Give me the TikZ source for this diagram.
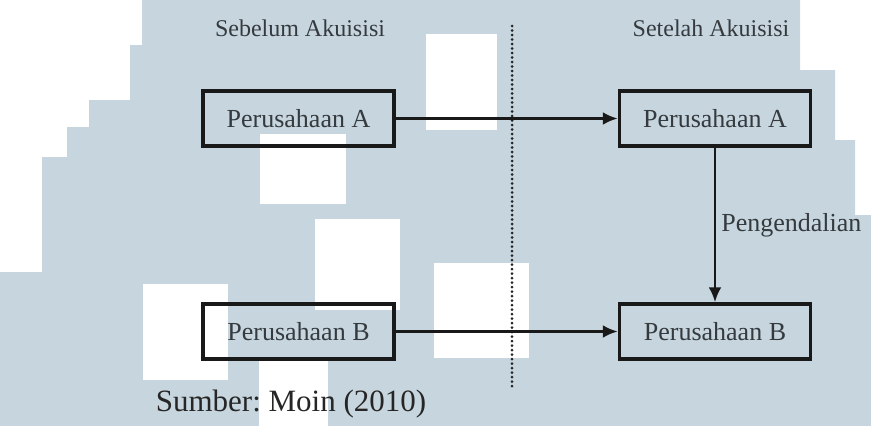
\documentclass[tikz,border=0pt]{standalone}
\usepackage{fontspec}
\setmainfont{Liberation Serif}
\usetikzlibrary{arrows.meta}
\definecolor{wmblue}{RGB}{199,214,222}
\definecolor{inkgray}{RGB}{52,58,62}
\frenchspacing

\begin{document}
\begin{tikzpicture}[x=1pt, y=-1pt, >={Latex[length=15pt,width=13pt]},   %Pfeilspitzen
	firma/.style={draw=black!90, line width=3.5pt, minimum width=191pt, minimum height=55pt, inner sep=0pt, font=\fontsize{26}{28}\selectfont, text=inkgray},
	kopf/.style={font=\fontsize{24}{26}\selectfont, text=inkgray},
	pfeil/.style={->, line width=2.8pt, draw=black!90}]
	\useasboundingbox (0,0) rectangle (871,426);
	% Hintergrund (Wasserzeichen)
	\fill[white] (0,0) rectangle (871,426);
	\fill[wmblue] (142,0) -- (800,0) -- (800,70) -- (835,70) -- (835,140) -- (855,140) -- (855,215) -- (871,215) -- (871,426) -- (0,426) -- (0,272) -- (42,272) -- (42,157) -- (67,157) -- (67,127) -- (89,127) -- (89,100) -- (130,100) -- (130,45) -- (142,45) -- cycle;
	\fill[white] (426,34) rectangle (497,130);
	\fill[white] (260,134) rectangle (346,204);
	\fill[white] (315,219) rectangle (400,310);
	\fill[white] (434,263) rectangle (529,358);
	\fill[white] (143,284) rectangle (228,380);
	\fill[white] (259,361) rectangle (328,426);
	% Ueberschriften
	\node[kopf] (sebelum) at (300,28) {Sebelum Akuisisi};
	\node[kopf] (setelah) at (711,28) {Setelah Akuisisi};
	% Trennlinie
	\coordinate (grenzeoben) at (512,26);
	\coordinate (grenzeunten) at (512,387);
	\draw[line width=3pt, line cap=round, dash pattern=on 0pt off 4.5pt, black!85] (grenzeoben) -- (grenzeunten);
	% Kaestchen
	\node[firma] (a1) at (298.5,118.5) {Perusahaan A};
	\node[firma] (a2) at (715,118.5) {Perusahaan A};
	\node[firma] (b1) at (298.5,331.5) {Perusahaan B};
	\node[firma] (b2) at (715,331.5) {Perusahaan B};
	% Pfeile
	\draw[pfeil] (a1) -- (a2);
	\draw[pfeil] (b1) -- (b2);
	\draw[pfeil] (a2.south) -- node[right, inner sep=5pt, font=\fontsize{26}{28}\selectfont, text=inkgray] (kontrolle) {Pengendalian} (b2.north);
	\node[font=\fontsize{31}{33}\selectfont, text=black!85] (sumber) at (291,404) {Sumber: Moin (2010)};
\end{tikzpicture}
\end{document}
